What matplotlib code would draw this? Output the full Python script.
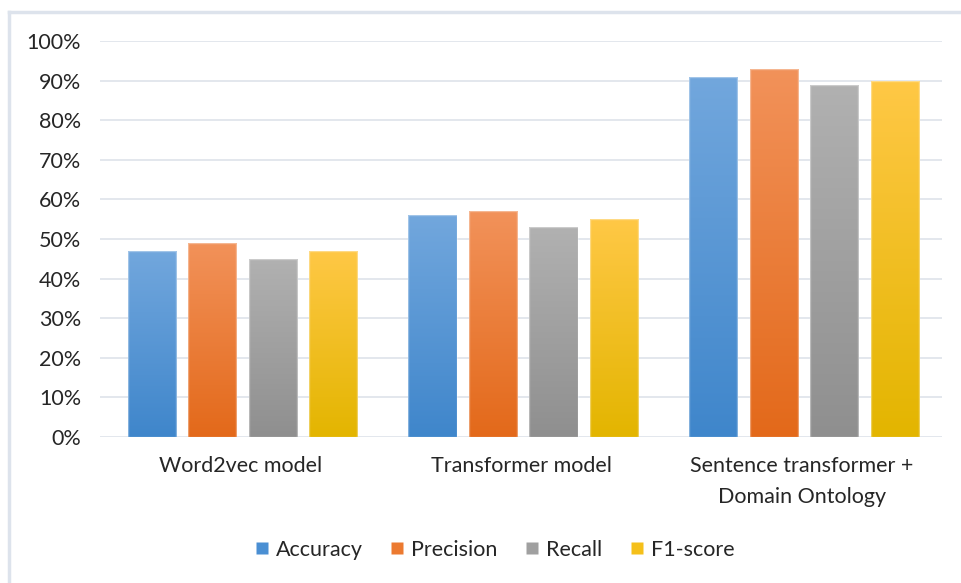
import numpy as np
import matplotlib.pyplot as plt
from matplotlib.colors import LinearSegmentedColormap
from matplotlib.lines import Line2D
from matplotlib.patches import Rectangle

categories = ["Word2vec model", "Transformer model", "Sentence transformer +\nDomain Ontology"]
metrics = ["Accuracy", "Precision", "Recall", "F1-score"]
accuracy = [47, 56, 91]
precision = [49, 57, 93]
recall = [45, 53, 89]
f1_score = [47, 55, 90]
yticks = list(range(0, 101, 10))

# (top, bottom) gradient colours and the flat legend colour
shades = [
    ("#72a7dd", "#3f86cb", "#4a8fd3"),
    ("#f2925a", "#e3691a", "#ec7a30"),
    ("#b1b1b1", "#8f8f8f", "#a0a0a0"),
    ("#ffc846", "#e3b500", "#f5c01a"),
]

plt.rcParams["font.family"] = ["Lato", "DejaVu Sans"]
fig = plt.figure(figsize=(9.61, 5.83), dpi=100)
ax = fig.add_axes([100 / 961, 146 / 583, 842 / 961, 396 / 583])

series = [accuracy, precision, recall, f1_score]
x = np.arange(len(categories))
width = 0.172
step = 0.2155
grad = np.linspace(0, 1, 256).reshape(-1, 1)

for i, (vals, (top, bot, _)) in enumerate(zip(series, shades)):
    cmap = LinearSegmentedColormap.from_list(f"g{i}", [bot, top])
    offs = (i - 1.5) * step + 0.008
    bars = ax.bar(x + offs, vals, width, color="none", edgecolor="none", zorder=2)
    for b in bars:
        x0, y0 = b.get_x(), b.get_y()
        w, h = b.get_width(), b.get_height()
        im = ax.imshow(grad, cmap=cmap, origin="lower", aspect="auto",
                       extent=(x0, x0 + w, y0, y0 + h), zorder=2)
        im.set_clip_path(b)
        ax.add_patch(Rectangle((x0, y0), w, h, fill=False,
                               edgecolor="white", alpha=0.35, lw=1, zorder=3))

ax.set_xlim(-0.5, 2.5)
ax.set_ylim(0, 100)
ax.set_yticks(yticks)
ax.set_yticklabels([f"{t}%" for t in yticks])
ax.set_xticks(x)
ax.set_xticklabels(categories, linespacing=1.7)
ax.grid(axis="y", color="#e1e5ec", lw=1.3, zorder=0)
for s in ax.spines.values():
    s.set_visible(False)
ax.tick_params(length=0, labelsize=15.5, labelcolor="#262626")
ax.tick_params(axis="y", pad=13.5)
ax.tick_params(axis="x", pad=13.5)

handles = [Line2D([], [], marker="s", ls="none", markersize=8,
                  markerfacecolor=c, markeredgecolor="none") for _, _, c in shades]
fig.legend(handles, metrics, loc="center", bbox_to_anchor=(495 / 961, 1 - 550 / 583),
           ncol=4, frameon=False, fontsize=15.5, handlelength=0.6,
           handletextpad=0.35, columnspacing=1.3, labelcolor="#262626")

# outer chart border (only top and left edges show in the crop)
fig.add_artist(Line2D([9 / 961, 9 / 961], [0, 1 - 12 / 583], color="#dde3ec", lw=2.5))
fig.add_artist(Line2D([9 / 961, 1], [1 - 12 / 583, 1 - 12 / 583], color="#dde3ec", lw=2.5))

fig.savefig("out.png", dpi=100)
